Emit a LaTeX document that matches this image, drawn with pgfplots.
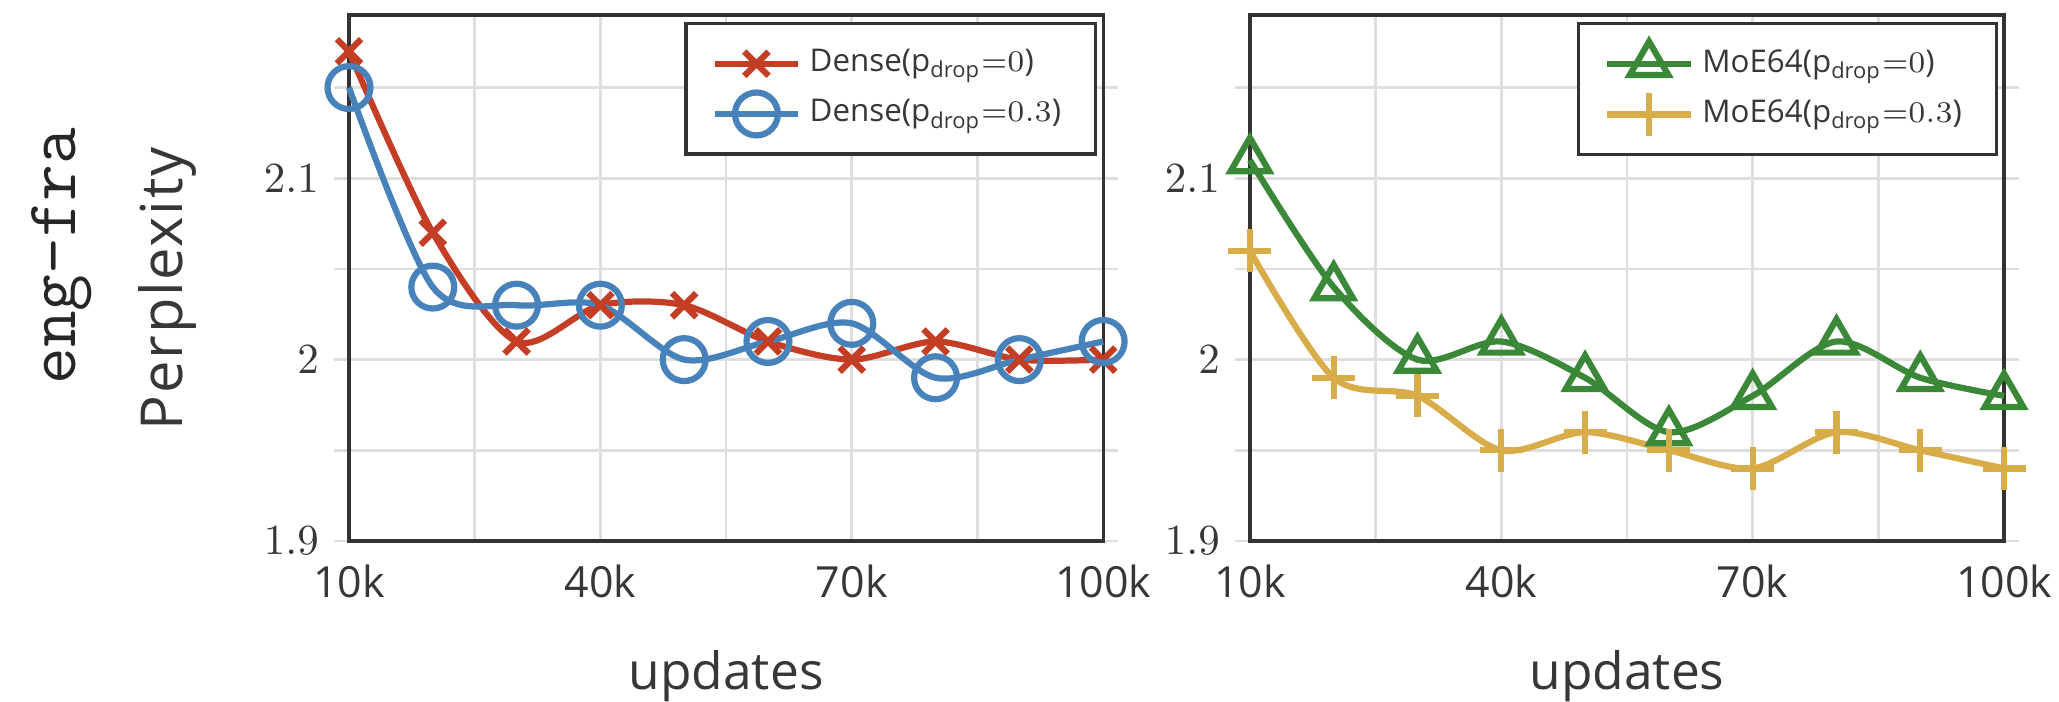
\documentclass[border=0pt]{standalone}
\usepackage{fontspec}
\usepackage{amsmath}
\usepackage{pgfplots}
\pgfplotsset{compat=1.18}
\setmainfont{Open Sans}
\newfontfamily\legendfont{Open Sans}
\newfontfamily\ylabfont[LetterSpace=3]{Open Sans}
\definecolor{cred}{RGB}{196,62,38}
\definecolor{cblue}{RGB}{72,130,186}
\definecolor{cgreen}{RGB}{58,136,56}
\definecolor{cgold}{RGB}{216,172,72}
\definecolor{cgrid}{RGB}{222,222,222}
\definecolor{ctext}{RGB}{55,55,55}

\pgfplotstableread{
x d0 d3 m0 m3
10 2.17 2.15 2.11 2.06
20 2.07 2.04 2.04 1.99
30 2.01 2.03 2.00 1.98
40 2.03 2.03 2.01 1.95
50 2.03 2.00 1.99 1.96
60 2.01 2.01 1.96 1.95
70 2.00 2.02 1.98 1.94
80 2.01 1.99 2.01 1.96
90 2.00 2.00 1.99 1.95
100 2.00 2.01 1.98 1.94
}\datatab

\begin{document}
\begin{tikzpicture}
\pgfplotsset{
  myaxis/.style={
    scale only axis, width=175.8pt, height=122.6pt,
    xmin=10, xmax=100, ymin=1.9, ymax=2.19,
    clip=false,
    xtick={10,25,40,55,70,85,100},
    xticklabels={10k,,40k,,70k,,100k},
    ytick={1.9,2,2.1},
    minor ytick={1.95,2.05,2.15},
    grid=both,
    major grid style={draw=cgrid, line width=0.6pt},
    minor grid style={draw=cgrid, line width=0.6pt},
    axis line style={draw=black!80, line width=0.75pt},
    tick align=outside,
    major tick length=3.5pt, minor tick length=3.5pt,
    xtick style={draw=none},
    ytick style={draw=cgrid, line width=0.6pt},
    every minor tick/.append style={draw=cgrid, line width=0.6pt},
    tick label style={font=\fontsize{10}{12}\selectfont, text=ctext},
    x tick label style={yshift=1.5pt},
    xlabel={updates},
    xlabel style={at={([yshift=-34.7pt]rel axis cs:0.5,0)}, anchor=base, font=\fontsize{12}{14}\selectfont, text=ctext},
    every axis plot/.append style={line width=1.45pt, smooth, mark options={solid, line width=1.45pt}},
    legend cell align=left,
    legend image code/.code={\draw[mark repeat=2,mark phase=2] plot coordinates {(0pt,0pt)(9.7pt,0pt)(19.4pt,0pt)};},
    legend style={at={(0.992,0.987)}, anchor=north east, draw=black!80, line width=0.8pt,
      inner xsep=6pt, inner ysep=4pt, row sep=1pt,
      font=\legendfont\fontsize{7.3}{9}\selectfont, text=ctext},
  }
}
\begin{axis}[myaxis,
  ylabel={Perplexity},
  ylabel style={at={([xshift=-42.4pt,yshift=-2.5pt]rel axis cs:0,0.5)}, anchor=center, font=\ylabfont\fontsize{13.5}{15}\selectfont, text=ctext},
]
\addplot[color=cred, mark=x, mark size=4pt] table[x=x, y=d0] {\datatab};
\addlegendentry{Dense($\mathrm{p}_{\text{drop}}{=}0$)}
\addplot[color=cblue, mark=o, mark size=5pt] table[x=x, y=d3] {\datatab};
\addlegendentry{Dense($\mathrm{p}_{\text{drop}}{=}0.3$)}
\node[rotate=90, font=\ttfamily\fontsize{16.6}{18}\selectfont, text=black!85] at ([xshift=-66.9pt,yshift=5.1pt]rel axis cs:0,0.5) {eng-fra};
\end{axis}
\begin{axis}[myaxis, at={(210pt,0pt)}, anchor=south west]
\addplot[color=cgreen, mark=triangle, mark size=5.2pt] table[x=x, y=m0] {\datatab};
\addlegendentry{MoE64($\mathrm{p}_{\text{drop}}{=}0$)}
\addplot[color=cgold, mark=+, mark size=5pt] table[x=x, y=m3] {\datatab};
\addlegendentry{MoE64($\mathrm{p}_{\text{drop}}{=}0.3$)}
\end{axis}
\pgfresetboundingbox
\path[use as bounding box] (-81.35pt,-37.5pt) rectangle (398.6pt,126.1pt);
\end{tikzpicture}
\end{document}
